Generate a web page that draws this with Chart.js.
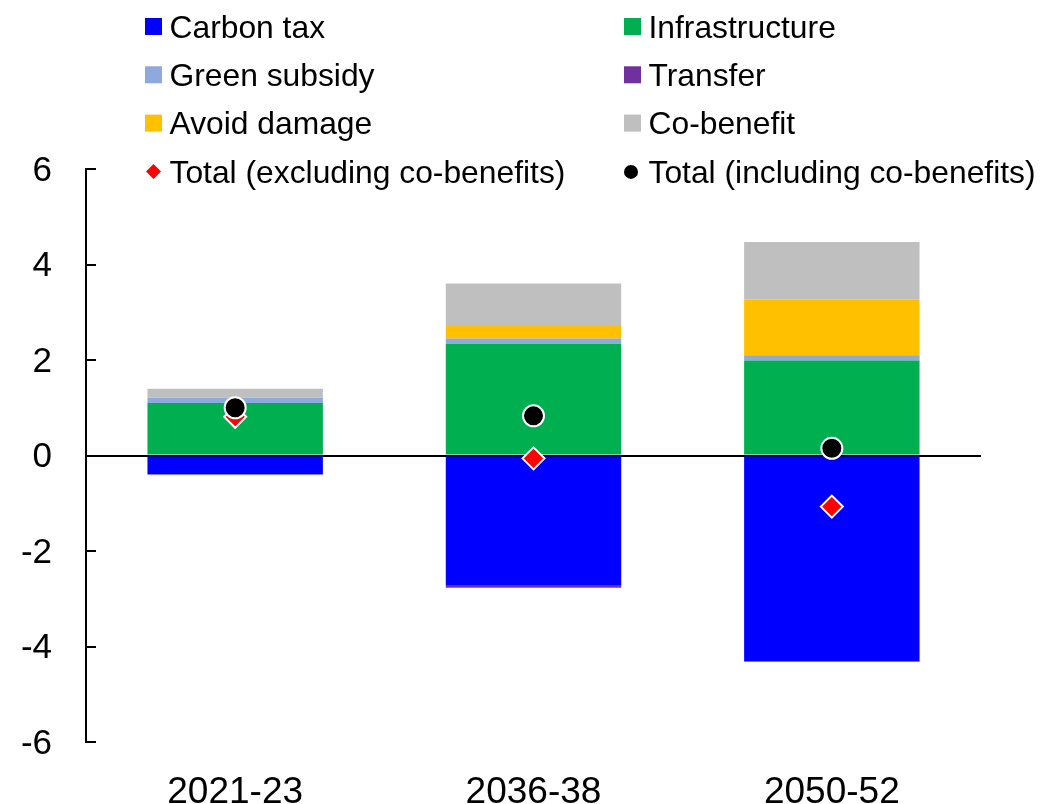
<!DOCTYPE html>
<html>
<head>
<meta charset="utf-8">
<script src="https://cdn.jsdelivr.net/npm/chart.js@4/dist/chart.umd.min.js"></script>
<style>
  html, body { margin: 0; padding: 0; background: #fff; }
  #wrap { width: 1043px; height: 804px; }
</style>
</head>
<body>
<div id="wrap"><canvas id="c" width="1043" height="804"></canvas></div>
<script>
// Periods on the horizontal axis
const periods = ['2021-23', '2036-38', '2050-52'];

// Stacked components (percentage points)
const carbonTax      = [-0.40, -2.73, -4.31];
const infrastructure = [ 1.10,  2.34,  1.99];
const greenSubsidy   = [ 0.11,  0.11,  0.11];
const transfer       = [ 0.00, -0.04, -0.01];
const avoidDamage    = [ 0.00,  0.26,  1.16];
const coBenefit      = [ 0.19,  0.89,  1.21];

// Totals shown as markers
const totalExcl = [0.81, -0.06, -1.07];
const totalIncl = [1.00,  0.83,  0.15];

// Value axis ticks
const yTicks = [-6, -4, -2, 0, 2, 4, 6];

const FONT = '"Liberation Sans", Arial, sans-serif';

function barSet(label, data, color) {
  return { type: 'bar', label, data, backgroundColor: color, borderWidth: 0, order: 2 };
}

// Inward tick marks on the value axis
const innerTicks = {
  id: 'innerTicks',
  afterDraw(chart) {
    const y = chart.scales.y, ctx = chart.ctx, x0 = chart.chartArea.left;
    ctx.save();
    ctx.strokeStyle = '#000';
    ctx.lineWidth = 2;
    yTicks.forEach(v => {
      const py = Math.round(y.getPixelForValue(v));
      ctx.beginPath();
      ctx.moveTo(x0, py);
      ctx.lineTo(x0 + 10, py);
      ctx.stroke();
    });
    ctx.restore();
  }
};

// Two-column legend across the top
const gridLegend = {
  id: 'gridLegend',
  afterDraw(chart) {
    const ctx = chart.ctx;
    const cols = [145, 624];
    const rows = [26.5, 74.8, 123.1, 171.4];
    ctx.save();
    ctx.font = '31.8px ' + FONT;
    ctx.textBaseline = 'middle';
    ctx.fillStyle = '#000';
    chart.data.datasets.forEach((ds, i) => {
      const cx = cols[i % 2], cy = rows[Math.floor(i / 2)];
      if (ds.type === 'bar') {
        ctx.fillStyle = ds.backgroundColor;
        ctx.fillRect(cx, cy - 8.5, 17, 17);
      } else if (ds.pointStyle === 'rectRot') {
        ctx.fillStyle = ds.pointBackgroundColor;
        ctx.beginPath();
        ctx.moveTo(cx + 8.5, cy - 7.5);
        ctx.lineTo(cx + 16, cy);
        ctx.lineTo(cx + 8.5, cy + 7.5);
        ctx.lineTo(cx + 1, cy);
        ctx.closePath();
        ctx.fill();
      } else {
        ctx.fillStyle = ds.pointBackgroundColor;
        ctx.beginPath();
        ctx.arc(cx + 7, cy + 0.5, 7, 0, Math.PI * 2);
        ctx.fill();
      }
      ctx.fillStyle = '#000';
      ctx.fillText(ds.label, cx + 24.5, cy + 2.5);
    });
    ctx.restore();
  }
};

new Chart(document.getElementById('c'), {
  data: {
    labels: periods,
    datasets: [
      barSet('Carbon tax', carbonTax, '#0000FF'),
      barSet('Infrastructure', infrastructure, '#00B050'),
      barSet('Green subsidy', greenSubsidy, '#8EA9DB'),
      barSet('Transfer', transfer, '#7030A0'),
      barSet('Avoid damage', avoidDamage, '#FFC000'),
      barSet('Co-benefit', coBenefit, '#BFBFBF'),
      {
        type: 'line', label: 'Total (excluding co-benefits)', data: totalExcl,
        stack: 'excl', showLine: false, order: 1,
        pointStyle: 'rectRot', pointRadius: 11, pointBorderWidth: 2,
        pointBackgroundColor: '#FF0000', pointBorderColor: '#FFFFFF'
      },
      {
        type: 'line', label: 'Total (including co-benefits)', data: totalIncl,
        stack: 'incl', showLine: false, order: 0,
        pointStyle: 'circle', pointRadius: 10.5, pointBorderWidth: 2,
        pointBackgroundColor: '#000000', pointBorderColor: '#FFFFFF'
      }
    ]
  },
  options: {
    responsive: false,
    animation: false,
    events: [],
    layout: { padding: { top: 169, right: 62, bottom: 0, left: 0 } },
    datasets: { bar: { categoryPercentage: 1.0, barPercentage: 0.588 } },
    plugins: { legend: { display: false }, tooltip: { enabled: false } },
    scales: {
      x: {
        stacked: true,
        grid: { display: false, drawTicks: false },
        border: { display: false },
        ticks: { color: '#000', font: { family: FONT, size: 37 }, padding: 29, maxRotation: 0 },
        afterFit(s) { s.height = 62; }
      },
      y: {
        stacked: true,
        min: -6, max: 6,
        afterBuildTicks(s) { s.ticks = yTicks.map(v => ({ value: v })); },
        grid: {
          drawTicks: false,
          color: c => (c.tick && c.tick.value === 0 ? '#000' : 'rgba(0,0,0,0)'),
          lineWidth: 2
        },
        border: { display: true, color: '#000', width: 2 },
        ticks: { color: '#000', font: { family: FONT, size: 35 }, padding: 34, labelOffset: 2 },
        afterFit(s) { s.width = 86; }
      }
    }
  },
  plugins: [innerTicks, gridLegend]
});
</script>
</body>
</html>
